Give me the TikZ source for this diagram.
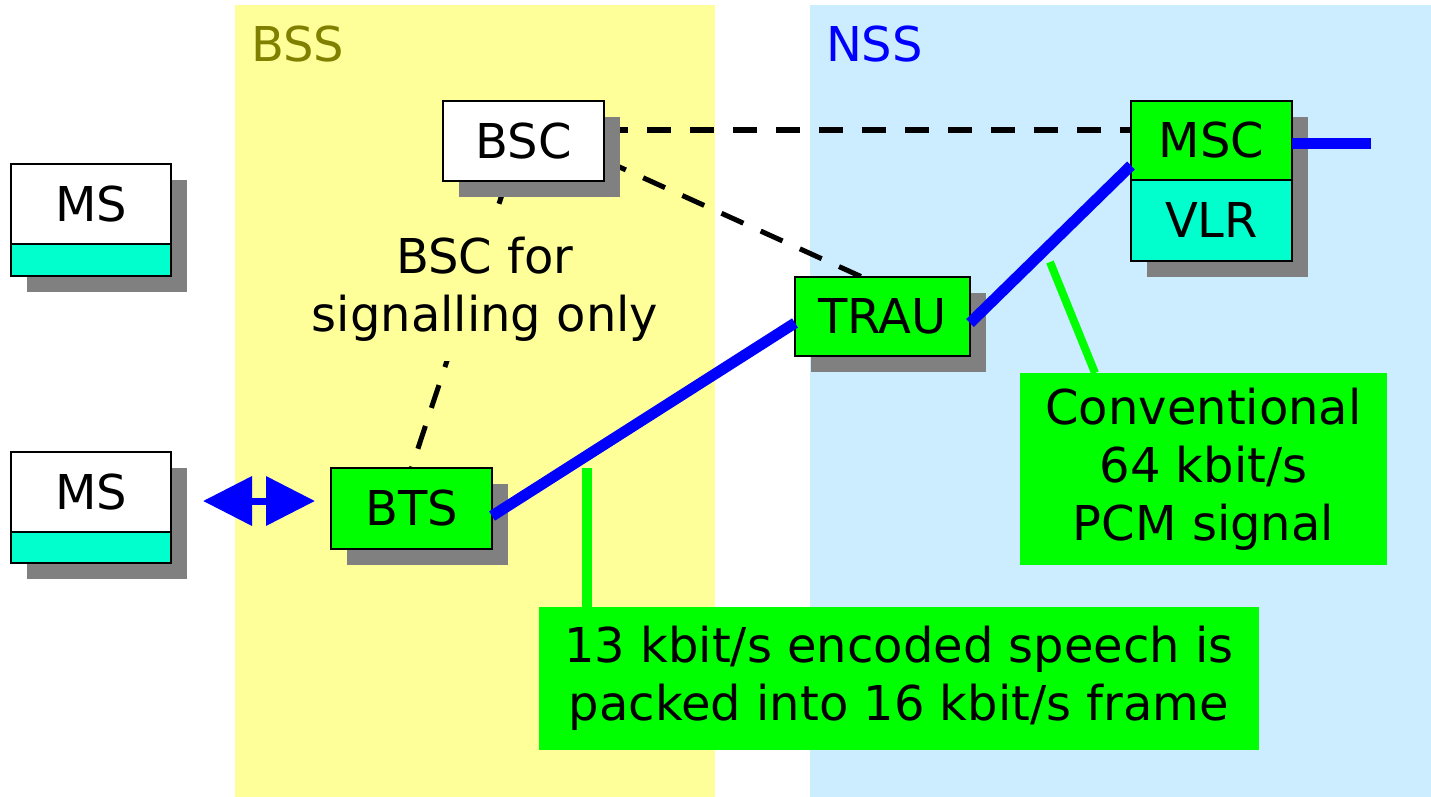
\documentclass[tikz,border=0pt]{standalone}
\usepackage{fontspec}
\setmainfont{DejaVu Sans}
\usetikzlibrary{shadows,arrows.meta}
\definecolor{bssyellow}{HTML}{FFFF99}
\definecolor{nssblue}{HTML}{CCECFF}
\definecolor{boxgreen}{HTML}{00FF00}
\definecolor{boxcyan}{HTML}{00FFCC}
\definecolor{shadowgray}{HTML}{808080}
\definecolor{olivetext}{HTML}{808000}
\definecolor{linkblue}{HTML}{0000FF}
\pgfdeclarelayer{back}
\pgfdeclarelayer{mid}
\pgfsetlayers{back,mid,main}
\begin{document}
\begin{tikzpicture}[x=1pt,y=-1pt,
  every node/.style={font=\fontsize{48}{58}\selectfont, inner sep=0pt, outer sep=0pt},
  unit/.style={draw=black, line width=2pt, rectangle, minimum width=161pt,
    drop shadow={shadow xshift=16pt, shadow yshift=-16pt, fill=shadowgray, opacity=1}},
  callout/.style={fill=boxgreen, rectangle, align=center},
  sigline/.style={black, line width=5pt, dash pattern=on 24pt off 19pt},
  speech/.style={linkblue, line width=11pt},
  pointer/.style={boxgreen, line width=9pt},
  panel/.style={anchor=base west, inner sep=0pt}
]
\useasboundingbox (0,0) rectangle (1431,797);

% panels
\begin{pgfonlayer}{back}
  \fill[bssyellow] (235,5) rectangle (715,797);
  \fill[nssblue] (810,5) rectangle (1431,797);
\end{pgfonlayer}
\node[panel, text=olivetext] (bsslabel) at (251,62) {BSS};
\node[panel, text=linkblue] (nsslabel) at (826,62) {NSS};

% mobile stations
\node[unit, fill=white, minimum width=160pt, minimum height=80pt] (ms1) at (91,204) {MS};
\node[unit, fill=boxcyan, minimum width=160pt, minimum height=32pt] (ms1b) at (91,260) {};
\node[unit, fill=white, minimum width=160pt, minimum height=80pt] (ms2) at (91,492) {MS};
\node[unit, fill=boxcyan, minimum width=160pt, minimum height=31pt] (ms2b) at (91,547.5) {};

% network elements
\node[unit, fill=white, minimum height=80pt] (bsc) at (523.5,141) {BSC};
\node[unit, fill=boxgreen, minimum height=81pt] (bts) at (411.5,508.5) {BTS};
\node[unit, fill=boxgreen, minimum width=175pt, minimum height=79pt] (trau) at (882.5,316.5) {TRAU};
\node[unit, fill=boxgreen, minimum height=79pt] (msc) at (1211.5,140.5) {MSC};
\node[unit, fill=boxcyan, minimum height=81pt] (vlr) at (1211.5,220.5) {VLR};

% signalling links
\begin{pgfonlayer}{mid}
  \draw[sigline] ([yshift=11pt]bsc.east) -- ([yshift=10.5pt]msc.west);
  \draw[sigline] ([yshift=-19pt]bsc.east) -- ([xshift=-20.5pt]trau.north);
  \draw[sigline] ([xshift=-17pt]bsc.south) -- (bts.north);
\end{pgfonlayer}

% signalling label (covers the dashed link)
\node[fill=bssyellow, align=center, inner xsep=4pt, inner ysep=20pt] (siglabel) at (485,289) {BSC for\\signalling only};

% radio link
\coordinate (radioL) at (203,501);
\coordinate (radioR) at (315,501);
\draw[linkblue, line width=7pt, {Triangle[length=49pt,width=48pt]}-{Triangle[length=49pt,width=48pt]}] (radioL) -- (radioR);

% speech links
\coordinate (mscout) at (1371,143);
\draw[speech] ([yshift=-7.5pt]bts.east) -- ([yshift=-6.5pt]trau.west);
\draw[speech] ([yshift=-6.5pt]trau.east) -- ([yshift=-25pt]msc.west);
\draw[speech] ([yshift=-2.5pt]msc.east) -- (mscout);

% callouts
\coordinate (pcmtip) at (1050,262);
\coordinate (speechtip) at (587,468);
\node[callout, minimum width=367pt, minimum height=192pt] (pcm) at (1203.5,469) {\raisebox{-3pt}{\parbox{360pt}{\centering Conventional\\64 kbit/s\\PCM signal}}};
\node[callout, minimum width=720pt, minimum height=143pt] (frame) at (899,678.5) {13 kbit/s encoded speech is\\packed into 16 kbit/s frame};
\begin{pgfonlayer}{mid}
  \draw[pointer, line width=8pt] (pcmtip) -- ([xshift=-108.5pt]pcm.north);
  \draw[pointer, line width=10pt] (speechtip) -- ([xshift=-312pt]frame.north);
\end{pgfonlayer}
\end{tikzpicture}
\end{document}
